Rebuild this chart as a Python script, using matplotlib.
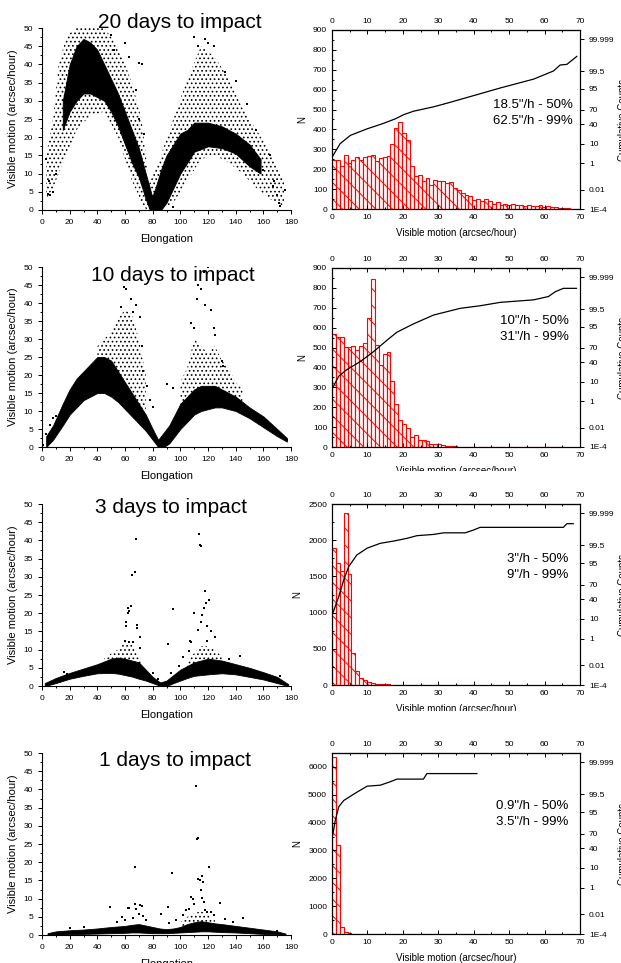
import math

import matplotlib
matplotlib.use("Agg")
import matplotlib.pyplot as plt
import numpy as np
from matplotlib.patches import Rectangle
from matplotlib.ticker import MultipleLocator

plt.rcParams["font.family"] = ["Liberation Sans", "DejaVu Sans"]
plt.rcParams["hatch.linewidth"] = 0.7

# ---- data ----
titles = ["20 days to impact", "10 days to impact", "3 days to impact", "1 days to impact"]
notes = [
    ["18.5\"/h - 50%", "62.5\"/h - 99%"],
    ["10\"/h - 50%", "31\"/h - 99%"],
    ["3\"/h - 50%", "9\"/h - 99%"],
    ["0.9\"/h - 50%", "3.5\"/h - 99%"],
]

# histogram counts per bin (bin width in arcsec/hour)
bin_width = [1.1, 1.1, 1.1, 1.1]
hist20 = [247, 247, 214, 272, 230, 244, 261, 244, 261, 268,
          272, 239, 256, 261, 268, 328, 406, 435, 381, 348,
          214, 164, 172, 139, 156, 122, 147, 139, 139, 130,
          134, 105, 94, 80, 69, 64, 47, 50, 38, 50,
          38, 27, 35, 22, 27, 18, 25, 20, 18, 17,
          22, 13, 17, 18, 10, 13, 10, 12, 7, 5,
          3, 2, 2, 2]
hist10 = [567, 555, 555, 502, 502, 508, 488, 508, 522, 648,
          845, 513, 412, 466, 480, 332, 215, 135, 118, 96,
          50, 62, 37, 37, 29, 17, 13, 17, 8, 7,
          5, 3, 2, 2, 1, 1, 1, 0, 1, 0,
          0, 0, 1, 0, 0, 0, 0, 1, 0, 0,
          0, 0, 0, 0, 0, 0, 1, 0, 0, 0]
hist3 = [1897, 1680, 1575, 2371, 1529, 447, 198, 92, 69, 41,
         28, 18, 14, 10, 8, 6, 5, 4, 4, 3,
         2, 2, 2, 1, 1, 1, 1, 1, 0, 1,
         0, 0, 1, 0, 0, 0, 1]
hist1 = [6360, 3204, 240, 72, 24, 10, 6, 4, 3, 2,
         2, 1, 1, 1, 1, 1, 0, 1, 0, 0,
         0, 0, 0, 1, 0, 0, 0, 0, 0, 0,
         0, 0, 0, 0, 0, 0, 1]
hist_ymax = [900, 900, 2500, 6500]
hist_ystep = [100, 100, 500, 1000]

# cumulative curves (percent)
cum20_x = [0.2, 2.3, 5.2, 9.9, 14.6, 17.9, 20.2, 23, 28.7, 33.4, 40, 47.5, 56.9, 62.5, 64.4, 66.3, 69.1]
cum20_p = [2.6, 10, 20, 31, 42, 51.5, 60, 67, 75, 82, 89.8, 95.3, 98.4, 99.5, 99.81, 99.83, 99.96]
cum10_x = [0.2, 1.9, 4.2, 8, 11.7, 15.5, 18.3, 23, 28.7, 36.2, 41.8, 47.5, 56.9, 61.1, 63, 65.3, 69]
cum10_p = [5.4, 16, 26, 41.5, 62, 82, 91, 96.3, 98.8, 99.55, 99.7, 99.83, 99.89, 99.94, 99.976, 99.988, 99.988]
cum3_x = [0.2, 1.9, 3.3, 4.7, 7, 9.9, 13.6, 17.4, 21.1, 24, 28.7, 31.5, 37.6, 40, 41.8, 65.3, 66.3, 68.1]
cum3_p = [16, 45.6, 77.6, 92.8, 98.1, 99.25, 99.64, 99.75, 99.84, 99.9, 99.92, 99.94, 99.94, 99.965,
          99.979, 99.979, 99.99, 99.99]
cum1_x = [0.2, 0.94, 1.9, 3.3, 6.1, 9.9, 13.6, 16.4, 18.3, 25.8, 26.8, 40.9]
cum1_p = [67, 89, 97.3, 98.8, 99.52, 99.87, 99.89, 99.94, 99.964, 99.964, 99.988, 99.988]

prob_ticks = [1e-4, 0.01, 1, 10, 40, 70, 95, 99.5, 99.999]
prob_labels = ["1E-4", "0.01", "1", "10", "40", "70", "95", "99.5", "99.999"]

# scatter clouds: dense core (solid) and sparse halo, as lower/upper envelopes
d20_core = [
    ([15, 20, 25, 30, 35, 40, 45, 50, 55, 60, 65, 70, 75, 78, 80],
     [22, 27, 30, 32, 32, 31, 30, 27, 23, 18, 13, 9, 3, 0, 0],
     [30, 40, 45, 47, 46, 44, 40, 36, 32, 27, 22, 17, 10, 6, 3]),
    ([78, 82, 86, 90, 95, 100, 105, 110, 120, 130, 140, 150, 158],
     [0, 0, 0, 2, 6, 10, 13, 16, 17.5, 17, 15.5, 12, 10],
     [2, 6, 11, 15, 18, 21, 22, 24, 24, 23, 21, 18, 14]),
]
d20_halo = [
    ([3, 8, 12, 18, 25, 35, 45, 55, 65, 72, 76],
     [3, 6, 10, 15, 22, 26, 27, 20, 8, 2, 0],
     [15, 25, 40, 48, 50, 50, 50, 45, 35, 25, 12]),
    ([75, 85, 95, 105, 115, 125, 135, 145, 155, 165, 175],
     [0, 0, 2, 8, 14, 15, 13, 10, 6, 3, 1],
     [5, 14, 25, 36, 45, 42, 36, 28, 22, 16, 8]),
]
d20_pts_x = [4, 6, 8, 5, 10, 3, 172, 171, 176, 170, 168, 167, 165, 160, 50, 52, 60, 63, 70, 72,
             110, 113, 118, 120, 124, 132, 140, 148, 155, 70, 74, 68, 95, 90]
d20_pts_y = [4.5, 4, 5, 8, 10, 14, 1, 2, 5.5, 4, 8, 6.6, 15, 11, 48, 44, 46, 42, 40.5, 40,
             47.5, 45, 47, 46, 45, 38, 35.5, 29, 22, 25, 21, 33, 0.8, 3]

d10_core = [
    ([3, 8, 15, 20, 25, 30, 35, 40, 45, 50, 55, 60, 65, 70, 75, 80, 84],
     [0, 2, 6, 9, 11, 13, 14, 15, 15, 14, 12.5, 10.5, 8.5, 6.5, 4.5, 2, 0],
     [3, 6, 12, 16, 19, 21, 23, 25, 25, 24, 21, 18, 15, 12, 9, 5, 2]),
    ([84, 88, 92, 96, 100, 105, 110, 115, 120, 125, 130, 140, 150, 160, 170, 177],
     [0, 0, 1, 3, 5, 7, 9, 10, 10.5, 11, 11, 10, 8, 5.5, 3, 1.5],
     [2, 4, 6, 9, 12, 14, 16, 17, 17, 17, 16, 14, 11, 8.5, 5, 2.5]),
]
d10_halo = [
    ([40, 50, 55, 60, 65, 70, 75],
     [20, 20, 16, 14, 10, 8, 6],
     [28, 32, 36, 38, 37, 30, 20]),
    ([100, 105, 110, 115, 120, 125, 130, 135, 140, 145],
     [10, 12, 14, 14, 15, 15, 14, 13, 12, 11],
     [18, 22, 30, 28, 26, 28, 24, 22, 18, 16]),
]
d10_pts_x = [57, 59, 61, 64, 66, 68, 71, 72, 73, 76, 78, 80, 90, 95, 108, 110, 112, 113, 115, 117,
             118, 120, 122, 124, 125, 130, 131, 3, 4, 5, 6, 1, 165, 170, 174, 177, 8, 10]
d10_pts_y = [39, 44.5, 44, 41, 37.5, 39.5, 36, 28, 21, 17, 13, 11, 17.5, 16.5, 34.5, 33, 41, 45, 44, 48.5,
             39.5, 50, 38, 33, 31, 24, 22.5, 3.5, 2.5, 1.5, 6, 0.5, 6.5, 4.5, 2.5, 2, 8, 8.5]

d3_core = [
    ([2, 10, 20, 30, 40, 50, 55, 60, 65, 70, 75, 80, 86],
     [0, 0.8, 2, 2.8, 3.5, 3.6, 3.4, 3, 2.6, 2, 1.5, 0.8, 0],
     [0.8, 2.2, 3.6, 4.8, 6, 7.5, 7.8, 7.5, 7, 6.5, 4.5, 2.5, 0.8]),
    ([84, 90, 95, 100, 105, 110, 120, 130, 140, 150, 160, 170, 178],
     [0, 0, 0.8, 1.5, 2.2, 2.8, 3.2, 3.5, 3.2, 2.5, 1.8, 0.8, 0],
     [0.8, 1.5, 3, 4.5, 5.5, 6.5, 7.5, 7, 6, 5, 3.8, 2.5, 0.5]),
]
d3_halo = [
    ([45, 50, 55, 60, 65, 70, 72],
     [6, 7, 7, 7, 6, 5, 4],
     [7.5, 9, 10, 12, 12, 8.5, 7]),
    ([105, 110, 115, 120, 125, 130],
     [5, 6, 7, 7, 7, 6.5],
     [7, 9, 11, 11, 10, 8]),
]
d3_pts_x = [60.5, 61, 62, 62.5, 63, 64.5, 65, 67, 68, 68.5, 69, 70.5, 60, 63, 66, 71, 80, 84, 91, 93,
            95, 99, 110, 112.5, 113.5, 114, 115, 116, 117, 117.5, 118.5, 119.5, 119, 121, 122, 125,
            108, 106, 115, 143, 135, 172, 165, 16, 18, 30, 102, 107]
d3_pts_y = [16.5, 17.5, 20, 21.5, 20.5, 22, 30.5, 31.3, 40.5, 16, 16.8, 13.5, 12.5, 12, 12, 10.5, 3.7, 2,
            11.6, 3.5, 21.2, 5.5, 20, 15.5, 41.7, 38.8, 38.5, 19.5, 21.5, 26, 22.8, 12.5, 16.5, 23.5,
            15.2, 13.5, 12.2, 9.5, 17.5, 8.2, 7.5, 2.8, 1.5, 3.8, 3.2, 4.5, 8, 12.3]

d1_core = [
    ([4, 10, 20, 30, 40, 50, 60, 65, 70, 75, 80, 85, 90, 95, 100, 105, 110, 115, 120, 125, 130,
      140, 150, 160, 170, 176],
     [0, 0.1, 0.2, 0.3, 0.4, 0.5, 0.6, 0.7, 0.7, 0.6, 0.5, 0.5, 0.5, 0.6, 0.7, 0.8, 0.9, 1.0, 1.0,
      0.9, 0.8, 0.7, 0.5, 0.3, 0.2, 0],
     [0.5, 1.0, 1.3, 1.5, 1.8, 2.2, 2.5, 2.8, 3.0, 2.6, 2.2, 1.8, 1.6, 1.8, 2.2, 3.0, 3.5, 3.8, 3.5,
      3.2, 3.0, 2.5, 2.0, 1.5, 1.0, 0.4]),
]
d1_halo = [
    ([100, 105, 110, 115, 120, 125],
     [2, 3, 3.5, 3.5, 3.5, 3],
     [3.5, 5, 6, 6.5, 5.5, 4]),
]
d1_pts_x = [49.5, 54, 58, 60, 62, 63, 66, 67, 67.5, 68, 70, 71, 72, 73, 75, 86, 91, 94, 92, 97, 102,
            104, 106, 108, 109, 110, 111, 112, 112.5, 113, 114, 115, 115.5, 116, 116.5, 117, 118, 119,
            120.5, 122, 124, 128.5, 132, 145, 138, 20, 30, 170]
d1_pts_y = [7.7, 3.5, 5, 4.2, 7.5, 7.3, 4.8, 18.8, 8.4, 7.2, 5.8, 8.3, 8, 5.2, 4.2, 5.8, 7.8, 16.9, 3.2,
            4, 5.5, 6.8, 7.1, 10.5, 9.9, 8.6, 41, 26.5, 26.6, 15.3, 15.1, 12.4, 10.3, 16.3, 14.5, 9.2,
            6.8, 6.4, 18.8, 6.2, 5.5, 8.8, 4.5, 4.6, 3.5, 1.8, 2.2, 1.2]

# ---- layout (pixel boxes: left, top, right, bottom) ----
W, H = 621, 963


def rect(l, t, r, b):
    return [l / W, 1 - b / H, (r - l) / W, (b - t) / H]


def fx(x):
    return x / W


def fy(y):
    return 1 - y / H


def probit(p):
    p = np.asarray(p, dtype=float)
    cdf = np.vectorize(lambda z: 0.5 * (1 + math.erf(z / math.sqrt(2))))
    lo = np.full(p.shape, -8.0)
    hi = np.full(p.shape, 8.0)
    for _ in range(60):
        mid = (lo + hi) / 2
        below = cdf(mid) < p
        lo = np.where(below, mid, lo)
        hi = np.where(below, hi, mid)
    return (lo + hi) / 2


scatter_boxes = [(42, 28, 291, 210), (42, 267, 291, 447), (42, 504, 291, 686), (42, 753, 291, 935)]
hist_boxes = [(332, 30, 580, 209), (332, 268, 580, 447), (332, 504, 580, 685), (332, 753, 580, 934)]
title_pos = [(180, 28), (173, 281), (171, 513), (175, 766)]
note_pos = [(573, 105), (569, 321), (568, 559), (568, 806)]

cores = [d20_core, d10_core, d3_core, d1_core]
halos = [d20_halo, d10_halo, d3_halo, d1_halo]
pts = [(d20_pts_x, d20_pts_y), (d10_pts_x, d10_pts_y), (d3_pts_x, d3_pts_y), (d1_pts_x, d1_pts_y)]
hists = [hist20, hist10, hist3, hist1]
cums = [(cum20_x, cum20_p), (cum10_x, cum10_p), (cum3_x, cum3_p), (cum1_x, cum1_p)]

fig = plt.figure(figsize=(6.21, 9.63), dpi=100)
p_lo = probit(1e-6)

for i in range(4):
    # ---- scatter panel ----
    ax = fig.add_axes(rect(*scatter_boxes[i]))
    for xs, lo, hi in halos[i]:
        ax.fill_between(xs, lo, hi, facecolor="none", edgecolor="black", hatch="....", linewidth=0)
    for xs, lo, hi in cores[i]:
        ax.fill_between(xs, lo, hi, color="black", linewidth=0.6)
    ax.scatter(pts[i][0], pts[i][1], s=3, color="black", marker="s", linewidths=0)
    ax.set_xlim(0, 180)
    ax.set_ylim(0, 50)
    ax.xaxis.set_major_locator(MultipleLocator(20))
    ax.xaxis.set_minor_locator(MultipleLocator(10))
    ax.yaxis.set_major_locator(MultipleLocator(5))
    ax.yaxis.set_minor_locator(MultipleLocator(2.5))
    ax.spines["top"].set_visible(False)
    ax.spines["right"].set_visible(False)
    ax.tick_params(which="both", direction="out", labelsize=6, width=0.7)
    ax.tick_params(which="major", length=3)
    ax.tick_params(which="minor", length=1.5)
    ax.set_xlabel("Elongation", fontsize=8, labelpad=6)
    ax.set_ylabel("Visible motion (arcsec/hour)", fontsize=8, labelpad=4)
    fig.text(fx(title_pos[i][0]), fy(title_pos[i][1]), titles[i], fontsize=15,
             ha="center", va="baseline")

    # ---- histogram panel ----
    hx = fig.add_axes(rect(*hist_boxes[i]))
    counts = hists[i]
    edges = np.arange(len(counts)) * bin_width[i]
    hx.bar(edges, counts, width=bin_width[i], align="edge", facecolor="#fff4f4",
           edgecolor="red", hatch="\\\\", linewidth=0.8)
    hx.set_xlim(0, 70)
    hx.set_ylim(0, hist_ymax[i])
    hx.xaxis.set_major_locator(MultipleLocator(10))
    hx.xaxis.set_minor_locator(MultipleLocator(5))
    hx.yaxis.set_major_locator(MultipleLocator(hist_ystep[i]))
    hx.yaxis.set_minor_locator(MultipleLocator(hist_ystep[i] / 2))
    hx.tick_params(which="both", direction="in", labelsize=6, width=0.7)
    hx.tick_params(which="major", length=3)
    hx.tick_params(which="minor", length=1.5)
    hx.set_xlabel("Visible motion (arcsec/hour)", fontsize=7, labelpad=5)
    hx.set_ylabel("N", fontsize=7, labelpad=4)
    top = hx.secondary_xaxis("top")
    top.xaxis.set_major_locator(MultipleLocator(10))
    top.xaxis.set_minor_locator(MultipleLocator(5))
    top.tick_params(which="both", direction="in", labelsize=6, width=0.7)
    top.tick_params(which="major", length=3)
    top.tick_params(which="minor", length=1.5)

    px = hx.twinx()
    cx, cp = cums[i]
    px.plot(cx, probit(np.array(cp) / 100), color="black", linewidth=0.9)
    px.set_ylim(p_lo, -p_lo)
    px.set_yticks(probit(np.array(prob_ticks) / 100))
    px.set_yticklabels(prob_labels)
    px.tick_params(direction="out", labelsize=6, length=3, width=0.7)
    # the source image cuts this label at its right edge
    px.set_ylabel("Cumulative Counts", fontsize=7)
    px.yaxis.set_label_coords(1.152, 0.5)

    nx, ny = note_pos[i]
    fig.text(fx(nx), fy(ny), notes[i][0], fontsize=9.5, ha="right", va="center")
    fig.text(fx(nx), fy(ny + 16), notes[i][1], fontsize=9.5, ha="right", va="center")

# the source image was stitched: lower panels cover part of the labels above
for y0 in (471, 711):
    fig.patches.append(Rectangle((fx(300), fy(y0 + 12)), 1 - fx(300), 12 / H,
                                 transform=fig.transFigure, facecolor="white",
                                 edgecolor="none", zorder=10))

fig.savefig("out.png", dpi=100)
